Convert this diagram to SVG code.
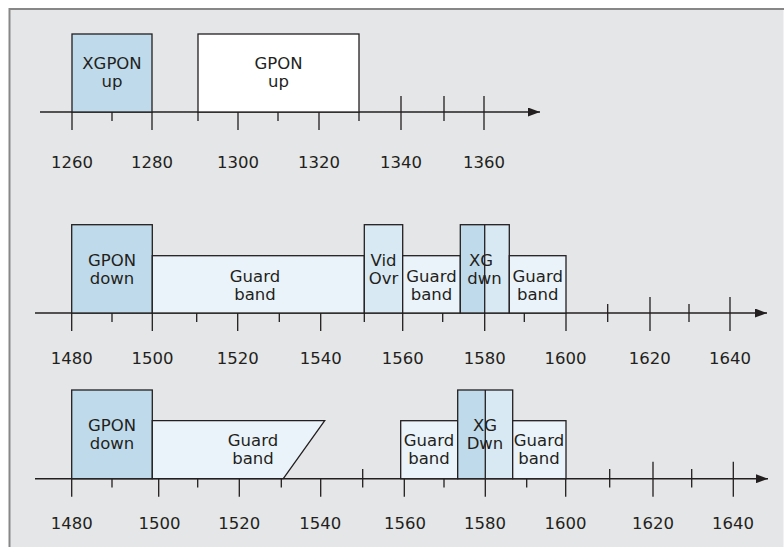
<svg xmlns="http://www.w3.org/2000/svg" width="784" height="547" viewBox="0 0 784 547">
<defs>
<style>
.bg{fill:#e5e6e7}
.frame{stroke:#878787;stroke-width:2;fill:none}
.box{stroke:#231f20;stroke-width:1.3}
.dk{fill:#bfdaea}
.md{fill:#d9e9f4}
.lt{fill:#ebf3fa}
.wh{fill:#ffffff}
.ax{stroke:#231f20;stroke-width:1.4;fill:none}
.tk{stroke:#231f20;stroke-width:1.3;fill:none}
text{font-family:"DejaVu Sans","Liberation Sans",sans-serif;font-size:16.5px;fill:#231f20;text-anchor:middle}
.lbl{font-size:16.5px}
</style>
<marker id="arr" viewBox="0 0 12 9" refX="12" refY="4.5" markerWidth="12" markerHeight="9" markerUnits="userSpaceOnUse" orient="auto">
<path d="M0,0 L12,4.5 L0,9 Z" fill="#231f20"/>
</marker>
</defs>
<rect x="0" y="0" width="784" height="547" fill="#ffffff"/>
<rect class="bg" x="9" y="9" width="775" height="538"/>
<path class="frame" d="M9.5,547 L9.5,9 L784,9"/>
<line x1="783.5" y1="10" x2="783.5" y2="547" stroke="#f2f2f2" stroke-width="1"/>

<g id="connectors">
<!-- Row 1 axis -->
<line class="ax" x1="40" y1="112" x2="540" y2="112" marker-end="url(#arr)"/>
<path class="tk" d="M72,112V130 M152,112V130 M238,112V130 M319,112V130 M401,96V130 M484,96V130 M112,112V121 M198,112V121 M278,112V121 M359,112V121 M444,96V121"/>
<!-- Row 2 axis -->
<line class="ax" x1="35" y1="313" x2="767" y2="313" marker-end="url(#arr)"/>
<path class="tk" d="M71.7,313V331 M152.3,313V331 M237.7,313V331 M320.7,313V331 M402.7,313V331 M484.7,313V331 M566,313V331 M650,297V331 M730,297V331 M112,313V322 M196.7,313V322 M279.3,313V322 M364.3,313V322 M442.7,313V322 M524.3,313V322 M607.7,304V322 M689,304V322"/>
<!-- Row 3 axis -->
<line class="ax" x1="35" y1="478.7" x2="768" y2="478.7" marker-end="url(#arr)"/>
<path class="tk" d="M71.7,478.7V496.7 M158.7,478.7V496.7 M239.3,478.7V496.7 M320.7,478.7V496.7 M404.3,478.7V496.7 M485.3,478.7V496.7 M565.7,478.7V496.7 M653,461.7V496.7 M733.3,461.7V496.7 M112,478.7V487.5 M197.7,478.7V487.5 M281.3,478.7V487.5 M362.7,469V487.5 M444,478.7V487.5 M526.7,478.7V487.5 M609.7,469V487.5 M691.7,469V487.5"/>
</g>

<!-- Row 1 nodes -->
<g id="xgpon-up">
<rect class="box dk" x="72" y="34" width="80" height="78"/>
<text x="112" y="69">XGPON</text>
<text x="112" y="87">up</text>
</g>
<g id="gpon-up">
<rect class="box wh" x="198" y="34" width="161" height="78"/>
<text x="278.5" y="69">GPON</text>
<text x="278.5" y="87">up</text>
</g>
<g id="row1-labels">
<text x="72" y="168">1260</text>
<text x="152" y="168">1280</text>
<text x="238" y="168">1300</text>
<text x="319" y="168">1320</text>
<text x="401" y="168">1340</text>
<text x="484" y="168">1360</text>
</g>

<!-- Row 2 nodes -->
<g id="r2-gpon-down">
<rect class="box dk" x="71.7" y="224.7" width="80.6" height="88.3"/>
<text x="112" y="265.7">GPON</text>
<text x="112" y="284.3">down</text>
</g>
<g id="r2-guard-1">
<rect class="box lt" x="152.3" y="255.7" width="212" height="57.3"/>
<text x="255" y="281.7">Guard</text>
<text x="255" y="300">band</text>
</g>
<g id="r2-vid-ovr">
<rect class="box md" x="364.3" y="224.7" width="38.4" height="88.3"/>
<text x="383.5" y="265.7">Vid</text>
<text x="383.5" y="284.3">Ovr</text>
</g>
<g id="r2-guard-2">
<rect class="box lt" x="402.7" y="255.7" width="57.6" height="57.3"/>
<text x="431.5" y="281.7">Guard</text>
<text x="431.5" y="300">band</text>
</g>
<g id="r2-xg-dwn">
<rect class="dk" x="460.3" y="224.7" width="24.4" height="88.3"/>
<rect class="md" x="484.7" y="224.7" width="24.6" height="88.3"/>
<rect class="box" fill="none" x="460.3" y="224.7" width="49" height="88.3"/>
<line class="tk" x1="484.7" y1="224.7" x2="484.7" y2="313"/>
<text x="481" y="265.7">XG</text>
<text x="484.5" y="284.3">dwn</text>
</g>
<g id="r2-guard-3">
<rect class="box lt" x="509.3" y="255.7" width="56.7" height="57.3"/>
<text x="537.7" y="281.7">Guard</text>
<text x="537.7" y="300">band</text>
</g>
<g id="row2-labels">
<text x="71.7" y="364">1480</text>
<text x="152.5" y="364">1500</text>
<text x="237.8" y="364">1520</text>
<text x="320.7" y="364">1540</text>
<text x="402.8" y="364">1560</text>
<text x="484.8" y="364">1580</text>
<text x="565.5" y="364">1600</text>
<text x="649.7" y="364">1620</text>
<text x="730" y="364">1640</text>
</g>

<!-- Row 3 nodes -->
<g id="r3-gpon-down">
<rect class="box dk" x="71.7" y="390" width="80.6" height="88.7"/>
<text x="112" y="430.7">GPON</text>
<text x="112" y="449">down</text>
</g>
<g id="r3-guard-1">
<path class="box lt" d="M152.3,478.7 L152.3,420.7 L324.7,420.7 L283.3,478.7 Z"/>
<text x="253" y="445.7">Guard</text>
<text x="253" y="464">band</text>
</g>
<g id="r3-guard-2">
<rect class="box lt" x="400.7" y="420.7" width="57" height="58"/>
<text x="429" y="446">Guard</text>
<text x="429" y="464">band</text>
</g>
<g id="r3-xg-dwn">
<rect class="dk" x="457.7" y="390" width="27.6" height="88.7"/>
<rect class="md" x="485.3" y="390" width="27.4" height="88.7"/>
<rect class="box" fill="none" x="457.7" y="390" width="55" height="88.7"/>
<line class="tk" x1="485.3" y1="390" x2="485.3" y2="478.7"/>
<text x="485" y="430.5">XG</text>
<text x="485" y="449">Dwn</text>
</g>
<g id="r3-guard-3">
<rect class="box lt" x="512.7" y="420.7" width="53.3" height="58"/>
<text x="539" y="446">Guard</text>
<text x="539" y="464">band</text>
</g>
<g id="row3-labels">
<text x="71.7" y="528.5">1480</text>
<text x="159.5" y="528.5">1500</text>
<text x="239.3" y="528.5">1520</text>
<text x="320.3" y="528.5">1540</text>
<text x="405" y="528.5">1560</text>
<text x="485" y="528.5">1580</text>
<text x="565.5" y="528.5">1600</text>
<text x="653" y="528.5">1620</text>
<text x="733" y="528.5">1640</text>
</g>
</svg>
